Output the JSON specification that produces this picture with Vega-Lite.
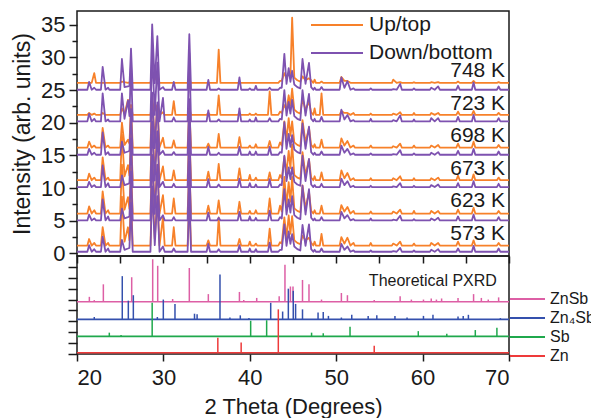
{
  "$schema": "https://vega.github.io/schema/vega-lite/v6.json",
  "padding": {"left": 10, "top": 10, "right": 0, "bottom": 0},
  "background": "white",
  "config": {
    "font": "Liberation Sans",
    "view": {"stroke": "#1a1a1a", "strokeWidth": 1.5},
    "axis": {"grid": false, "domain": false, "labelOverlap": false, "tickColor": "#1a1a1a", "tickWidth": 1.5, "labelColor": "#1a1a1a", "titleColor": "#1a1a1a", "labelFont": "Liberation Sans", "titleFont": "Liberation Sans", "titleFontWeight": "normal"},
    "legend": {"labelFont": "Liberation Sans", "labelColor": "#1a1a1a"}
  },
  "datasets": {
    "xrd": [
      {"x":20,"u1":1.2,"d1":0.25,"u2":6.1,"d2":5.05,"u3":11.2,"d3":10.15,"u4":16.2,"d4":15.1,"u5":21.2,"d5":20.2,"u6":26.1,"d6":25.05},
      {"x":21.2,"u1":1.2,"d1":0.25,"u2":6.1,"d2":5.05,"u3":11.2,"d3":10.15,"u4":16.2,"d4":15.1,"u5":21.2,"d5":20.2,"u6":26.1,"d6":25.05},
      {"x":21.4,"u1":2.2,"d1":1.25,"u2":7.2,"d2":5.95,"u3":12.2,"d3":10.95,"u4":17.1,"d4":16.0,"u5":21.5,"d5":21.4,"u6":26.1,"d6":26.25},
      {"x":21.7,"u1":1.2,"d1":0.25,"u2":6.1,"d2":5.05,"u3":11.2,"d3":10.15,"u4":16.2,"d4":15.1,"u5":21.2,"d5":20.2,"u6":26.1,"d6":25.05},
      {"x":22.0,"u1":1.6,"d1":0.65,"u2":6.6,"d2":5.35,"u3":11.6,"d3":10.45,"u4":16.5,"d4":15.4,"u5":21.4,"d5":20.6,"u6":27.6,"d6":25.35},
      {"x":22.2,"u1":1.2,"d1":0.25,"u2":6.1,"d2":5.05,"u3":11.2,"d3":10.15,"u4":16.2,"d4":15.1,"u5":21.2,"d5":20.2,"u6":26.1,"d6":25.05},
      {"x":22.77,"u1":1.2,"d1":0.25,"u2":6.1,"d2":5.05,"u3":11.2,"d3":10.15,"u4":16.2,"d4":15.1,"u5":21.2,"d5":20.2,"u6":26.1,"d6":25.05},
      {"x":22.97,"u1":4.0,"d1":2.55,"u2":9.5,"d2":8.25,"u3":14.7,"d3":13.45,"u4":19.2,"d4":18.5,"u5":21.5,"d5":24.5,"u6":26.1,"d6":28.55},
      {"x":23.3,"u1":1.2,"d1":0.25,"u2":6.1,"d2":5.05,"u3":11.2,"d3":10.15,"u4":16.2,"d4":15.1,"u5":21.2,"d5":20.2,"u6":26.1,"d6":25.05},
      {"x":23.6,"u1":1.6,"d1":0.75,"u2":6.6,"d2":5.65,"u3":11.6,"d3":10.75,"u4":16.5,"d4":15.5,"u5":21.2,"d5":20.5,"u6":26.1,"d6":25.35},
      {"x":23.75,"u1":1.2,"d1":0.25,"u2":6.1,"d2":5.05,"u3":11.2,"d3":10.15,"u4":16.2,"d4":15.1,"u5":21.2,"d5":20.2,"u6":26.1,"d6":25.05},
      {"x":25.0,"u1":1.2,"d1":0.25,"u2":6.1,"d2":5.05,"u3":11.2,"d3":10.15,"u4":16.2,"d4":15.1,"u5":21.2,"d5":20.2,"u6":26.1,"d6":25.05},
      {"x":25.2,"u1":8.7,"d1":2.05,"u2":13.6,"d2":6.85,"u3":18.2,"d3":11.95,"u4":20.0,"d4":17.1,"u5":22.2,"d5":24.5,"u6":26.3,"d6":29.75},
      {"x":25.5,"u1":1.8,"d1":0.55,"u2":6.7,"d2":5.35,"u3":11.8,"d3":10.45,"u4":16.6,"d4":15.4,"u5":21.4,"d5":20.6,"u6":26.2,"d6":25.45},
      {"x":25.9,"u1":4.0,"d1":0.75,"u2":8.6,"d2":5.55,"u3":13.5,"d3":10.65,"u4":17.4,"d4":15.6,"u5":23.5,"d5":23.4,"u6":26.1,"d6":25.55},
      {"x":26.07,"u1":2.0,"d1":0.85,"u2":6.8,"d2":5.65,"u3":11.9,"d3":10.75,"u4":16.8,"d4":15.7,"u5":21.6,"d5":21.0,"u6":26.2,"d6":25.65},
      {"x":26.25,"u1":8.7,"d1":7.75,"u2":13.1,"d2":12.55,"u3":18.2,"d3":17.65,"u4":22.7,"d4":22.1,"u5":22.7,"d5":29.2,"u6":26.3,"d6":31.35},
      {"x":26.45,"u1":1.2,"d1":0.25,"u2":6.1,"d2":5.05,"u3":11.2,"d3":10.15,"u4":16.2,"d4":15.1,"u5":21.2,"d5":20.2,"u6":26.1,"d6":25.05},
      {"x":28.5,"u1":1.2,"d1":0.25,"u2":6.1,"d2":5.05,"u3":11.2,"d3":10.15,"u4":16.2,"d4":15.1,"u5":21.2,"d5":20.2,"u6":26.1,"d6":25.05},
      {"x":28.7,"u1":10.2,"d1":10.25,"u2":15.1,"d2":15.05,"u3":20.2,"d3":20.15,"u4":24.2,"d4":24.6,"u5":23.2,"d5":31.2,"u6":27.4,"d6":35.05},
      {"x":29.0,"u1":2.2,"d1":1.25,"u2":7.1,"d2":6.05,"u3":12.2,"d3":11.15,"u4":17.2,"d4":16.1,"u5":21.8,"d5":21.2,"u6":26.6,"d6":26.05},
      {"x":29.3,"u1":8.7,"d1":8.75,"u2":13.6,"d2":13.55,"u3":18.7,"d3":18.65,"u4":22.7,"d4":23.1,"u5":22.7,"d5":29.2,"u6":27.1,"d6":33.25},
      {"x":29.55,"u1":1.2,"d1":0.25,"u2":6.1,"d2":5.05,"u3":11.2,"d3":10.15,"u4":16.2,"d4":15.1,"u5":21.2,"d5":20.2,"u6":26.1,"d6":25.05},
      {"x":29.95,"u1":5.5,"d1":1.05,"u2":8.9,"d2":5.85,"u3":13.3,"d3":10.95,"u4":17.7,"d4":15.7,"u5":21.6,"d5":23.8,"u6":26.1,"d6":25.45},
      {"x":30.15,"u1":1.2,"d1":0.25,"u2":6.1,"d2":5.05,"u3":11.2,"d3":10.15,"u4":16.2,"d4":15.1,"u5":21.2,"d5":20.2,"u6":26.1,"d6":25.05},
      {"x":31.0,"u1":1.2,"d1":0.25,"u2":6.1,"d2":5.05,"u3":11.2,"d3":10.15,"u4":16.2,"d4":15.1,"u5":21.2,"d5":20.2,"u6":26.1,"d6":25.05},
      {"x":31.2,"u1":4.0,"d1":0.75,"u2":8.4,"d2":5.55,"u3":12.7,"d3":10.65,"u4":17.3,"d4":15.5,"u5":23.3,"d5":20.8,"u6":26.1,"d6":26.25},
      {"x":31.4,"u1":1.2,"d1":0.25,"u2":6.1,"d2":5.05,"u3":11.2,"d3":10.15,"u4":16.2,"d4":15.1,"u5":21.2,"d5":20.2,"u6":26.1,"d6":25.05},
      {"x":32.8,"u1":1.2,"d1":0.25,"u2":6.1,"d2":5.05,"u3":11.2,"d3":10.15,"u4":16.2,"d4":15.1,"u5":21.2,"d5":20.2,"u6":26.1,"d6":25.05},
      {"x":33.0,"u1":8.2,"d1":9.25,"u2":13.1,"d2":14.05,"u3":18.2,"d3":19.15,"u4":22.2,"d4":23.6,"u5":22.2,"d5":30.7,"u6":26.6,"d6":33.55},
      {"x":33.2,"u1":1.2,"d1":0.25,"u2":6.1,"d2":5.05,"u3":11.2,"d3":10.15,"u4":16.2,"d4":15.1,"u5":21.2,"d5":20.2,"u6":26.1,"d6":25.05},
      {"x":35.0,"u1":1.2,"d1":0.25,"u2":6.1,"d2":5.05,"u3":11.2,"d3":10.15,"u4":16.2,"d4":15.1,"u5":21.2,"d5":20.2,"u6":26.1,"d6":25.05},
      {"x":35.2,"u1":2.0,"d1":1.45,"u2":7.3,"d2":6.25,"u3":12.5,"d3":11.35,"u4":16.8,"d4":16.3,"u5":21.5,"d5":21.9,"u6":26.1,"d6":26.55},
      {"x":35.4,"u1":1.2,"d1":0.25,"u2":6.1,"d2":5.05,"u3":11.2,"d3":10.15,"u4":16.2,"d4":15.1,"u5":21.2,"d5":20.2,"u6":26.1,"d6":25.05},
      {"x":36.2,"u1":1.2,"d1":0.25,"u2":6.1,"d2":5.05,"u3":11.2,"d3":10.15,"u4":16.2,"d4":15.1,"u5":21.2,"d5":20.2,"u6":26.1,"d6":25.05},
      {"x":36.4,"u1":5.5,"d1":0.65,"u2":8.1,"d2":5.45,"u3":13.7,"d3":10.55,"u4":18.3,"d4":15.4,"u5":24.2,"d5":20.5,"u6":31.2,"d6":25.25},
      {"x":36.6,"u1":1.2,"d1":0.25,"u2":6.1,"d2":5.05,"u3":11.2,"d3":10.15,"u4":16.2,"d4":15.1,"u5":21.2,"d5":20.2,"u6":26.1,"d6":25.05},
      {"x":38.6,"u1":1.2,"d1":0.25,"u2":6.1,"d2":5.05,"u3":11.2,"d3":10.15,"u4":16.2,"d4":15.1,"u5":21.2,"d5":20.2,"u6":26.1,"d6":25.05},
      {"x":38.8,"u1":2.2,"d1":1.25,"u2":7.9,"d2":6.35,"u3":13.0,"d3":11.45,"u4":17.8,"d4":16.3,"u5":21.4,"d5":22.2,"u6":26.1,"d6":26.95},
      {"x":39.0,"u1":1.2,"d1":0.25,"u2":6.1,"d2":5.05,"u3":11.2,"d3":10.15,"u4":16.2,"d4":15.1,"u5":21.2,"d5":20.2,"u6":26.1,"d6":25.05},
      {"x":39.85,"u1":1.2,"d1":0.25,"u2":6.1,"d2":5.05,"u3":11.2,"d3":10.15,"u4":16.2,"d4":15.1,"u5":21.2,"d5":20.2,"u6":26.1,"d6":25.05},
      {"x":40.0,"u1":1.8,"d1":0.75,"u2":6.5,"d2":5.65,"u3":12.0,"d3":10.75,"u4":16.5,"d4":15.6,"u5":21.4,"d5":20.5,"u6":26.1,"d6":25.25},
      {"x":40.15,"u1":1.2,"d1":0.25,"u2":6.1,"d2":5.05,"u3":11.2,"d3":10.15,"u4":16.2,"d4":15.1,"u5":21.2,"d5":20.2,"u6":26.1,"d6":25.05},
      {"x":40.55,"u1":1.2,"d1":0.25,"u2":6.1,"d2":5.05,"u3":11.2,"d3":10.15,"u4":16.2,"d4":15.1,"u5":21.2,"d5":20.2,"u6":26.1,"d6":25.05},
      {"x":40.7,"u1":1.5,"d1":0.65,"u2":6.6,"d2":5.45,"u3":11.6,"d3":10.55,"u4":16.7,"d4":15.6,"u5":21.4,"d5":20.8,"u6":26.1,"d6":25.65},
      {"x":40.85,"u1":1.2,"d1":0.25,"u2":6.1,"d2":5.05,"u3":11.2,"d3":10.15,"u4":16.2,"d4":15.1,"u5":21.2,"d5":20.2,"u6":26.1,"d6":25.05},
      {"x":42.1,"u1":1.2,"d1":0.25,"u2":6.1,"d2":5.05,"u3":11.2,"d3":10.15,"u4":16.2,"d4":15.1,"u5":21.2,"d5":20.2,"u6":26.1,"d6":25.05},
      {"x":42.3,"u1":3.8,"d1":1.65,"u2":8.4,"d2":6.55,"u3":12.4,"d3":11.35,"u4":17.2,"d4":16.3,"u5":24.8,"d5":20.7,"u6":26.1,"d6":25.35},
      {"x":42.5,"u1":1.2,"d1":0.25,"u2":6.1,"d2":5.05,"u3":11.2,"d3":10.15,"u4":16.2,"d4":15.1,"u5":21.2,"d5":20.2,"u6":26.1,"d6":25.05},
      {"x":43.3,"u1":1.2,"d1":0.25,"u2":6.1,"d2":5.05,"u3":11.2,"d3":10.15,"u4":16.2,"d4":15.1,"u5":21.2,"d5":20.2,"u6":26.1,"d6":25.05},
      {"x":43.5,"u1":1.7,"d1":0.55,"u2":7.3,"d2":5.55,"u3":12.0,"d3":10.55,"u4":17.0,"d4":15.5,"u5":21.7,"d5":20.6,"u6":26.4,"d6":25.35},
      {"x":43.7,"u1":1.5,"d1":0.55,"u2":6.4,"d2":5.35,"u3":11.5,"d3":10.45,"u4":16.5,"d4":15.4,"u5":21.5,"d5":20.5,"u6":26.4,"d6":25.35},
      {"x":44.0,"u1":5.5,"d1":4.45,"u2":11.7,"d2":9.85,"u3":14.8,"d3":14.95,"u4":20.2,"d4":20.1,"u5":22.7,"d5":25.0,"u6":27.6,"d6":30.55},
      {"x":44.25,"u1":2.4,"d1":1.15,"u2":7.3,"d2":5.95,"u3":12.4,"d3":11.05,"u4":17.4,"d4":16.0,"u5":22.0,"d5":21.1,"u6":26.8,"d6":25.95},
      {"x":44.5,"u1":5.8,"d1":3.35,"u2":10.9,"d2":8.25,"u3":15.7,"d3":13.15,"u4":20.7,"d4":18.3,"u5":24.2,"d5":23.2,"u6":27.6,"d6":28.35},
      {"x":44.7,"u1":3.0,"d1":1.45,"u2":7.9,"d2":6.25,"u3":13.0,"d3":11.35,"u4":18.0,"d4":16.3,"u5":22.6,"d5":21.4,"u6":27.1,"d6":26.25},
      {"x":44.9,"u1":5.7,"d1":2.95,"u2":11.7,"d2":8.75,"u3":16.7,"d3":13.15,"u4":20.2,"d4":18.1,"u5":25.2,"d5":23.5,"u6":36.1,"d6":27.95},
      {"x":45.15,"u1":2.0,"d1":1.05,"u2":6.9,"d2":5.85,"u3":12.0,"d3":10.95,"u4":17.0,"d4":15.9,"u5":22.0,"d5":21.0,"u6":26.9,"d6":25.85},
      {"x":45.5,"u1":1.6,"d1":0.65,"u2":6.5,"d2":5.45,"u3":11.6,"d3":10.55,"u4":16.6,"d4":15.5,"u5":21.6,"d5":20.6,"u6":26.5,"d6":25.45},
      {"x":45.85,"u1":1.4,"d1":0.45,"u2":6.3,"d2":5.25,"u3":11.4,"d3":10.35,"u4":16.4,"d4":15.3,"u5":21.4,"d5":20.4,"u6":26.3,"d6":25.25},
      {"x":46.1,"u1":2.7,"d1":4.35,"u2":10.4,"d2":10.35,"u3":15.5,"d3":14.95,"u4":20.4,"d4":19.9,"u5":23.7,"d5":25.0,"u6":27.1,"d6":29.75},
      {"x":46.45,"u1":2.0,"d1":1.15,"u2":6.9,"d2":5.95,"u3":12.0,"d3":11.05,"u4":17.0,"d4":16.0,"u5":22.0,"d5":21.1,"u6":26.5,"d6":25.95},
      {"x":46.85,"u1":2.4,"d1":4.45,"u2":9.4,"d2":9.85,"u3":14.4,"d3":14.45,"u4":19.2,"d4":19.4,"u5":23.2,"d5":24.4,"u6":26.8,"d6":29.15},
      {"x":47.1,"u1":1.6,"d1":0.65,"u2":6.5,"d2":5.45,"u3":11.6,"d3":10.55,"u4":16.6,"d4":15.5,"u5":21.6,"d5":20.6,"u6":26.5,"d6":25.45},
      {"x":47.35,"u1":1.2,"d1":0.25,"u2":6.1,"d2":5.05,"u3":11.2,"d3":10.15,"u4":16.2,"d4":15.1,"u5":21.2,"d5":20.2,"u6":26.1,"d6":25.05},
      {"x":47.5,"u1":1.8,"d1":0.55,"u2":6.6,"d2":5.35,"u3":11.8,"d3":10.45,"u4":16.7,"d4":15.4,"u5":22.2,"d5":20.6,"u6":26.6,"d6":25.35},
      {"x":47.65,"u1":1.2,"d1":0.25,"u2":6.1,"d2":5.05,"u3":11.2,"d3":10.15,"u4":16.2,"d4":15.1,"u5":21.2,"d5":20.2,"u6":26.1,"d6":25.05},
      {"x":48.1,"u1":1.2,"d1":0.25,"u2":6.1,"d2":5.05,"u3":11.2,"d3":10.15,"u4":16.2,"d4":15.1,"u5":21.2,"d5":20.2,"u6":26.1,"d6":25.05},
      {"x":48.3,"u1":3.0,"d1":0.75,"u2":7.3,"d2":5.55,"u3":12.4,"d3":10.65,"u4":17.4,"d4":15.6,"u5":24.5,"d5":20.9,"u6":26.3,"d6":25.45},
      {"x":48.5,"u1":1.2,"d1":0.25,"u2":6.1,"d2":5.05,"u3":11.2,"d3":10.15,"u4":16.2,"d4":15.1,"u5":21.2,"d5":20.2,"u6":26.1,"d6":25.05},
      {"x":50.4,"u1":1.2,"d1":0.25,"u2":6.1,"d2":5.05,"u3":11.2,"d3":10.15,"u4":16.2,"d4":15.1,"u5":21.2,"d5":20.2,"u6":26.1,"d6":25.05},
      {"x":50.6,"u1":2.5,"d1":1.45,"u2":7.4,"d2":6.35,"u3":12.7,"d3":11.45,"u4":17.6,"d4":16.5,"u5":21.8,"d5":22.0,"u6":27.0,"d6":26.95},
      {"x":50.95,"u1":1.5,"d1":0.55,"u2":6.4,"d2":5.35,"u3":11.5,"d3":10.45,"u4":16.5,"d4":15.4,"u5":21.5,"d5":20.5,"u6":26.4,"d6":25.35},
      {"x":51.3,"u1":2.4,"d1":1.05,"u2":7.1,"d2":5.85,"u3":12.3,"d3":11.05,"u4":17.2,"d4":16.0,"u5":21.5,"d5":21.2,"u6":26.4,"d6":26.35},
      {"x":51.65,"u1":1.2,"d1":0.25,"u2":6.1,"d2":5.05,"u3":11.2,"d3":10.15,"u4":16.2,"d4":15.1,"u5":21.2,"d5":20.2,"u6":26.1,"d6":25.05},
      {"x":52.0,"u1":1.6,"d1":0.45,"u2":6.5,"d2":5.25,"u3":11.5,"d3":10.35,"u4":16.5,"d4":15.3,"u5":21.5,"d5":20.4,"u6":26.1,"d6":25.25},
      {"x":52.15,"u1":1.2,"d1":0.25,"u2":6.1,"d2":5.05,"u3":11.2,"d3":10.15,"u4":16.2,"d4":15.1,"u5":21.2,"d5":20.2,"u6":26.1,"d6":25.05},
      {"x":53.85,"u1":1.2,"d1":0.25,"u2":6.1,"d2":5.05,"u3":11.2,"d3":10.15,"u4":16.2,"d4":15.1,"u5":21.2,"d5":20.2,"u6":26.1,"d6":25.05},
      {"x":54.0,"u1":1.6,"d1":0.45,"u2":6.4,"d2":5.35,"u3":11.5,"d3":10.35,"u4":16.5,"d4":15.3,"u5":21.4,"d5":20.6,"u6":26.1,"d6":25.25},
      {"x":54.15,"u1":1.2,"d1":0.25,"u2":6.1,"d2":5.05,"u3":11.2,"d3":10.15,"u4":16.2,"d4":15.1,"u5":21.2,"d5":20.2,"u6":26.1,"d6":25.05},
      {"x":56.45,"u1":1.2,"d1":0.25,"u2":6.1,"d2":5.05,"u3":11.2,"d3":10.15,"u4":16.2,"d4":15.1,"u5":21.2,"d5":20.2,"u6":26.1,"d6":25.05},
      {"x":56.6,"u1":1.5,"d1":0.35,"u2":6.4,"d2":5.15,"u3":11.5,"d3":10.25,"u4":16.4,"d4":15.2,"u5":21.4,"d5":20.4,"u6":26.6,"d6":25.15},
      {"x":57.0,"u1":1.2,"d1":0.25,"u2":6.1,"d2":5.05,"u3":11.2,"d3":10.15,"u4":16.2,"d4":15.1,"u5":21.2,"d5":20.2,"u6":26.1,"d6":25.05},
      {"x":57.4,"u1":1.8,"d1":0.85,"u2":6.7,"d2":5.75,"u3":11.8,"d3":10.75,"u4":16.8,"d4":15.8,"u5":21.6,"d5":21.1,"u6":26.2,"d6":25.95},
      {"x":57.6,"u1":1.2,"d1":0.25,"u2":6.1,"d2":5.05,"u3":11.2,"d3":10.15,"u4":16.2,"d4":15.1,"u5":21.2,"d5":20.2,"u6":26.1,"d6":25.05},
      {"x":58.85,"u1":1.2,"d1":0.25,"u2":6.1,"d2":5.05,"u3":11.2,"d3":10.15,"u4":16.2,"d4":15.1,"u5":21.2,"d5":20.2,"u6":26.1,"d6":25.05},
      {"x":59.0,"u1":1.5,"d1":0.45,"u2":6.5,"d2":5.25,"u3":11.5,"d3":10.35,"u4":16.5,"d4":15.3,"u5":21.5,"d5":20.5,"u6":26.2,"d6":25.25},
      {"x":59.15,"u1":1.2,"d1":0.25,"u2":6.1,"d2":5.05,"u3":11.2,"d3":10.15,"u4":16.2,"d4":15.1,"u5":21.2,"d5":20.2,"u6":26.1,"d6":25.05},
      {"x":60.85,"u1":1.2,"d1":0.25,"u2":6.1,"d2":5.05,"u3":11.2,"d3":10.15,"u4":16.2,"d4":15.1,"u5":21.2,"d5":20.2,"u6":26.1,"d6":25.05},
      {"x":61.0,"u1":1.6,"d1":0.55,"u2":6.5,"d2":5.35,"u3":11.5,"d3":10.45,"u4":16.5,"d4":15.4,"u5":21.5,"d5":20.7,"u6":26.2,"d6":25.35},
      {"x":61.4,"u1":1.2,"d1":0.25,"u2":6.1,"d2":5.05,"u3":11.2,"d3":10.15,"u4":16.2,"d4":15.1,"u5":21.2,"d5":20.2,"u6":26.1,"d6":25.05},
      {"x":61.8,"u1":1.6,"d1":0.65,"u2":6.5,"d2":5.45,"u3":11.6,"d3":10.55,"u4":16.6,"d4":15.5,"u5":21.5,"d5":20.7,"u6":26.2,"d6":25.55},
      {"x":62.0,"u1":1.2,"d1":0.25,"u2":6.1,"d2":5.05,"u3":11.2,"d3":10.15,"u4":16.2,"d4":15.1,"u5":21.2,"d5":20.2,"u6":26.1,"d6":25.05},
      {"x":63.9,"u1":1.2,"d1":0.25,"u2":6.1,"d2":5.05,"u3":11.2,"d3":10.15,"u4":16.2,"d4":15.1,"u5":21.2,"d5":20.2,"u6":26.1,"d6":25.05},
      {"x":64.1,"u1":1.8,"d1":0.75,"u2":6.7,"d2":5.65,"u3":11.9,"d3":10.75,"u4":16.8,"d4":15.7,"u5":21.7,"d5":20.9,"u6":26.3,"d6":25.65},
      {"x":64.3,"u1":1.2,"d1":0.25,"u2":6.1,"d2":5.05,"u3":11.2,"d3":10.15,"u4":16.2,"d4":15.1,"u5":21.2,"d5":20.2,"u6":26.1,"d6":25.05},
      {"x":65.7,"u1":1.2,"d1":0.25,"u2":6.1,"d2":5.05,"u3":11.2,"d3":10.15,"u4":16.2,"d4":15.1,"u5":21.2,"d5":20.2,"u6":26.1,"d6":25.05},
      {"x":65.9,"u1":2.0,"d1":1.15,"u2":7.0,"d2":5.95,"u3":12.1,"d3":11.05,"u4":17.1,"d4":16.0,"u5":21.8,"d5":21.2,"u6":26.4,"d6":26.15},
      {"x":66.1,"u1":1.2,"d1":0.25,"u2":6.1,"d2":5.05,"u3":11.2,"d3":10.15,"u4":16.2,"d4":15.1,"u5":21.2,"d5":20.2,"u6":26.1,"d6":25.05},
      {"x":68.6,"u1":1.2,"d1":0.25,"u2":6.1,"d2":5.05,"u3":11.2,"d3":10.15,"u4":16.2,"d4":15.1,"u5":21.2,"d5":20.2,"u6":26.1,"d6":25.05},
      {"x":68.8,"u1":1.6,"d1":0.75,"u2":6.5,"d2":5.55,"u3":11.6,"d3":10.65,"u4":16.6,"d4":15.6,"u5":21.5,"d5":20.7,"u6":26.2,"d6":25.55},
      {"x":69.0,"u1":1.2,"d1":0.25,"u2":6.1,"d2":5.05,"u3":11.2,"d3":10.15,"u4":16.2,"d4":15.1,"u5":21.2,"d5":20.2,"u6":26.1,"d6":25.05},
      {"x":70,"u1":1.2,"d1":0.25,"u2":6.1,"d2":5.05,"u3":11.2,"d3":10.15,"u4":16.2,"d4":15.1,"u5":21.2,"d5":20.2,"u6":26.1,"d6":25.05}
    ],
    "temps": [
      {"t":69.55,"y":27.9,"label":"748 K"},
      {"t":69.55,"y":22.85,"label":"723 K"},
      {"t":69.55,"y":17.97,"label":"698 K"},
      {"t":69.55,"y":12.9,"label":"673 K"},
      {"t":69.55,"y":8.05,"label":"623 K"},
      {"t":69.55,"y":3.0,"label":"573 K"}
    ],
    "bases": [
      {"phase":"ZnSb","b":4.8},
      {"phase":"Zn₄Sb₃","b":3.18},
      {"phase":"Sb","b":1.62},
      {"phase":"Zn","b":0.12}
    ],
    "sticks": [
      {"phase":"ZnSb","t":21.43,"b":4.8,"i":5.25},
      {"phase":"ZnSb","t":22.0,"b":4.8,"i":4.95},
      {"phase":"ZnSb","t":23.05,"b":4.8,"i":6.4},
      {"phase":"ZnSb","t":26.33,"b":4.8,"i":7.05},
      {"phase":"ZnSb","t":28.76,"b":4.8,"i":8.7},
      {"phase":"ZnSb","t":29.34,"b":4.8,"i":8.1},
      {"phase":"ZnSb","t":31.07,"b":4.8,"i":5.05},
      {"phase":"ZnSb","t":33.0,"b":4.8,"i":7.9},
      {"phase":"ZnSb","t":35.2,"b":4.8,"i":5.5},
      {"phase":"ZnSb","t":38.8,"b":4.8,"i":5.7},
      {"phase":"ZnSb","t":39.3,"b":4.8,"i":4.95},
      {"phase":"ZnSb","t":40.8,"b":4.8,"i":5.15},
      {"phase":"ZnSb","t":43.4,"b":4.8,"i":5.3},
      {"phase":"ZnSb","t":44.07,"b":4.8,"i":8.2},
      {"phase":"ZnSb","t":44.7,"b":4.8,"i":6.2},
      {"phase":"ZnSb","t":45.0,"b":4.8,"i":6.2},
      {"phase":"ZnSb","t":46.1,"b":4.8,"i":6.8},
      {"phase":"ZnSb","t":46.85,"b":4.8,"i":6.4},
      {"phase":"ZnSb","t":48.3,"b":4.8,"i":5.0},
      {"phase":"ZnSb","t":50.6,"b":4.8,"i":5.6},
      {"phase":"ZnSb","t":51.3,"b":4.8,"i":5.4},
      {"phase":"ZnSb","t":54.4,"b":4.8,"i":4.95},
      {"phase":"ZnSb","t":57.4,"b":4.8,"i":5.3},
      {"phase":"ZnSb","t":58.7,"b":4.8,"i":5.0},
      {"phase":"ZnSb","t":60.1,"b":4.8,"i":5.0},
      {"phase":"ZnSb","t":61.0,"b":4.8,"i":5.1},
      {"phase":"ZnSb","t":61.6,"b":4.8,"i":5.0},
      {"phase":"ZnSb","t":62.2,"b":4.8,"i":5.1},
      {"phase":"ZnSb","t":64.1,"b":4.8,"i":5.15},
      {"phase":"ZnSb","t":65.9,"b":4.8,"i":5.5},
      {"phase":"ZnSb","t":66.8,"b":4.8,"i":5.15},
      {"phase":"ZnSb","t":67.6,"b":4.8,"i":5.0},
      {"phase":"ZnSb","t":68.8,"b":4.8,"i":5.2},
      {"phase":"Zn₄Sb₃","t":22.0,"b":3.18,"i":3.4},
      {"phase":"Zn₄Sb₃","t":25.24,"b":3.18,"i":7.15},
      {"phase":"Zn₄Sb₃","t":25.94,"b":3.18,"i":4.9},
      {"phase":"Zn₄Sb₃","t":26.52,"b":3.18,"i":5.4},
      {"phase":"Zn₄Sb₃","t":29.3,"b":3.18,"i":3.4},
      {"phase":"Zn₄Sb₃","t":29.99,"b":3.18,"i":5.0},
      {"phase":"Zn₄Sb₃","t":31.34,"b":3.18,"i":4.6},
      {"phase":"Zn₄Sb₃","t":33.6,"b":3.18,"i":3.7},
      {"phase":"Zn₄Sb₃","t":33.9,"b":3.18,"i":3.65},
      {"phase":"Zn₄Sb₃","t":36.55,"b":3.18,"i":7.3},
      {"phase":"Zn₄Sb₃","t":37.7,"b":3.18,"i":3.35},
      {"phase":"Zn₄Sb₃","t":38.9,"b":3.18,"i":3.55},
      {"phase":"Zn₄Sb₃","t":39.9,"b":3.18,"i":3.3},
      {"phase":"Zn₄Sb₃","t":42.42,"b":3.18,"i":4.7},
      {"phase":"Zn₄Sb₃","t":43.8,"b":3.18,"i":3.9},
      {"phase":"Zn₄Sb₃","t":44.46,"b":3.18,"i":6.0},
      {"phase":"Zn₄Sb₃","t":45.03,"b":3.18,"i":5.8},
      {"phase":"Zn₄Sb₃","t":45.3,"b":3.18,"i":4.6},
      {"phase":"Zn₄Sb₃","t":46.1,"b":3.18,"i":4.1},
      {"phase":"Zn₄Sb₃","t":47.9,"b":3.18,"i":3.8},
      {"phase":"Zn₄Sb₃","t":48.5,"b":3.18,"i":3.85},
      {"phase":"Zn₄Sb₃","t":49.1,"b":3.18,"i":3.5},
      {"phase":"Zn₄Sb₃","t":50.6,"b":3.18,"i":3.35},
      {"phase":"Zn₄Sb₃","t":51.8,"b":3.18,"i":3.6},
      {"phase":"Zn₄Sb₃","t":53.7,"b":3.18,"i":3.5},
      {"phase":"Zn₄Sb₃","t":54.7,"b":3.18,"i":3.55},
      {"phase":"Zn₄Sb₃","t":56.8,"b":3.18,"i":3.5},
      {"phase":"Zn₄Sb₃","t":58.2,"b":3.18,"i":3.35},
      {"phase":"Zn₄Sb₃","t":60.1,"b":3.18,"i":3.5},
      {"phase":"Zn₄Sb₃","t":61.2,"b":3.18,"i":3.6},
      {"phase":"Zn₄Sb₃","t":64.1,"b":3.18,"i":3.45},
      {"phase":"Zn₄Sb₃","t":64.7,"b":3.18,"i":3.5},
      {"phase":"Zn₄Sb₃","t":65.3,"b":3.18,"i":3.6},
      {"phase":"Zn₄Sb₃","t":69.0,"b":3.18,"i":3.3},
      {"phase":"Sb","t":23.74,"b":1.62,"i":1.96},
      {"phase":"Sb","t":25.1,"b":1.62,"i":1.75},
      {"phase":"Sb","t":28.7,"b":1.62,"i":4.7},
      {"phase":"Sb","t":40.1,"b":1.62,"i":3.05},
      {"phase":"Sb","t":41.95,"b":1.62,"i":3.1},
      {"phase":"Sb","t":47.15,"b":1.62,"i":1.96},
      {"phase":"Sb","t":48.5,"b":1.62,"i":1.9},
      {"phase":"Sb","t":51.6,"b":1.62,"i":2.5},
      {"phase":"Sb","t":59.5,"b":1.62,"i":2.1},
      {"phase":"Sb","t":62.8,"b":1.62,"i":1.85},
      {"phase":"Sb","t":66.1,"b":1.62,"i":2.2},
      {"phase":"Sb","t":68.6,"b":1.62,"i":2.4},
      {"phase":"Zn","t":36.3,"b":0.12,"i":1.5},
      {"phase":"Zn","t":39.0,"b":0.12,"i":1.05},
      {"phase":"Zn","t":43.3,"b":0.12,"i":4.1},
      {"phase":"Zn","t":54.4,"b":0.12,"i":0.75}
    ]
  },
  "spacing": 0,
  "bounds": "flush",
  "vconcat": [
    {
      "width": 432,
      "height": 245,
      "data": {"name": "xrd"},
      "layer": [
        {
          "transform": [{"fold": ["u1","u2","u3","u4","u5","u6"], "as": ["trace","y"]}],
          "mark": {"type": "line", "strokeWidth": 1.8, "strokeJoin": "round"},
          "encoding": {
            "x": {"field": "x", "type": "quantitative", "scale": {"domain": [20, 70], "nice": false}, "axis": null},
            "y": {"field": "y", "type": "quantitative", "scale": {"domain": [-0.4, 37.1], "nice": false, "zero": false},
              "axis": {"title": "Intensity (arb. units)", "values": [0,2.5,5,7.5,10,12.5,15,17.5,20,22.5,25,27.5,30,32.5,35],
                "labelExpr": "datum.value % 5 === 0 ? datum.label : ''", "labelOverlap": false,
                "tickSize": {"condition": {"test": "datum.value % 5 === 0", "value": 8}, "value": 5},
                "labelFontSize": 22, "titleFontSize": 23, "labelPadding": 4, "titlePadding": 6}},
            "detail": {"field": "trace"},
            "color": {"datum": "Up/top", "type": "nominal",
              "scale": {"domain": ["Up/top", "Down/bottom"], "range": ["#f7812a", "#7e52b0"]},
              "legend": {"title": null, "orient": "none", "legendX": 233, "legendY": 3, "symbolType": "stroke", "symbolSize": 2704, "symbolStrokeWidth": 2, "labelFontSize": 21, "clipHeight": 22, "rowPadding": 6, "labelOffset": 5, "padding": 0}}
          }
        },
        {
          "transform": [{"fold": ["d1","d2","d3","d4","d5","d6"], "as": ["trace","y"]}],
          "mark": {"type": "line", "strokeWidth": 1.8, "strokeJoin": "round"},
          "encoding": {
            "x": {"field": "x", "type": "quantitative"},
            "y": {"field": "y", "type": "quantitative",
              "axis": {"title": "Intensity (arb. units)", "values": [0,2.5,5,7.5,10,12.5,15,17.5,20,22.5,25,27.5,30,32.5,35],
                "labelExpr": "datum.value % 5 === 0 ? datum.label : ''", "labelOverlap": false,
                "tickSize": {"condition": {"test": "datum.value % 5 === 0", "value": 8}, "value": 5},
                "labelFontSize": 22, "titleFontSize": 23, "labelPadding": 4, "titlePadding": 6}},
            "detail": {"field": "trace"},
            "color": {"datum": "Down/bottom", "type": "nominal"}
          }
        },
        {
          "data": {"name": "temps"},
          "mark": {"type": "text", "align": "right", "baseline": "middle", "fontSize": 21, "font": "Liberation Sans", "color": "#1a1a1a"},
          "encoding": {
            "x": {"field": "t", "type": "quantitative"},
            "y": {"field": "y", "type": "quantitative",
              "axis": {"title": "Intensity (arb. units)", "values": [0,2.5,5,7.5,10,12.5,15,17.5,20,22.5,25,27.5,30,32.5,35],
                "labelExpr": "datum.value % 5 === 0 ? datum.label : ''", "labelOverlap": false,
                "tickSize": {"condition": {"test": "datum.value % 5 === 0", "value": 8}, "value": 5},
                "labelFontSize": 22, "titleFontSize": 23, "labelPadding": 4, "titlePadding": 6}},
            "text": {"field": "label"}
          }
        }
      ]
    },
    {
      "width": 432,
      "height": 98,
      "layer": [
        {
          "data": {"name": "bases"},
          "mark": {"type": "rule", "strokeWidth": 1.6},
          "encoding": {
            "y": {"field": "b", "type": "quantitative", "scale": {"domain": [0, 9], "nice": false, "zero": false},
              "axis": {"values": [0,1,2,3,4,5,6,7,8], "labels": false, "title": null, "tickSize": 9}},
            "color": {"field": "phase", "type": "nominal",
              "scale": {"domain": ["ZnSb", "Zn₄Sb₃", "Sb", "Zn"], "range": ["#dd5fa5", "#3450ad", "#1fa84c", "#ee3a3a"]},
              "legend": {"title": null, "orient": "none", "legendX": 432, "legendY": 35, "symbolType": "stroke", "symbolSize": 1225, "symbolStrokeWidth": 2, "labelFontSize": 16, "clipHeight": 16, "rowPadding": 3, "labelOffset": 4, "padding": 0}}
          }
        },
        {
          "data": {"name": "sticks"},
          "mark": {"type": "rule", "strokeWidth": 1.5},
          "encoding": {
            "x": {"field": "t", "type": "quantitative", "scale": {"domain": [20, 70], "nice": false},
              "axis": {"orient": "bottom", "values": [20,30,40,50,60,70], "title": "2 Theta (Degrees)", "labelFontSize": 22, "titleFontSize": 22, "tickSize": 7, "labelPadding": 6, "titlePadding": 8}},
            "y": {"field": "b", "type": "quantitative",
              "axis": {"values": [0,1,2,3,4,5,6,7,8], "labels": false, "title": null, "tickSize": 9}},
            "y2": {"field": "i"},
            "color": {"field": "phase", "type": "nominal"}
          }
        },
        {
          "data": {"values": [{"t": 68.6, "y": 6.7, "label": "Theoretical PXRD"}]},
          "mark": {"type": "text", "align": "right", "baseline": "middle", "fontSize": 16, "font": "Liberation Sans", "color": "#1a1a1a"},
          "encoding": {
            "x": {"field": "t", "type": "quantitative",
              "axis": {"orient": "top", "values": [20,25,30,35,40,45,50,55,60,65,70], "labels": false, "title": null, "tickSize": -7}},
            "y": {"field": "y", "type": "quantitative",
              "axis": {"values": [0,1,2,3,4,5,6,7,8], "labels": false, "title": null, "tickSize": 9}},
            "text": {"field": "label"}
          }
        }
      ],
      "resolve": {"axis": {"x": "independent"}}
    }
  ],
  "resolve": {"scale": {"color": "independent"}, "legend": {"color": "independent"}}
}
